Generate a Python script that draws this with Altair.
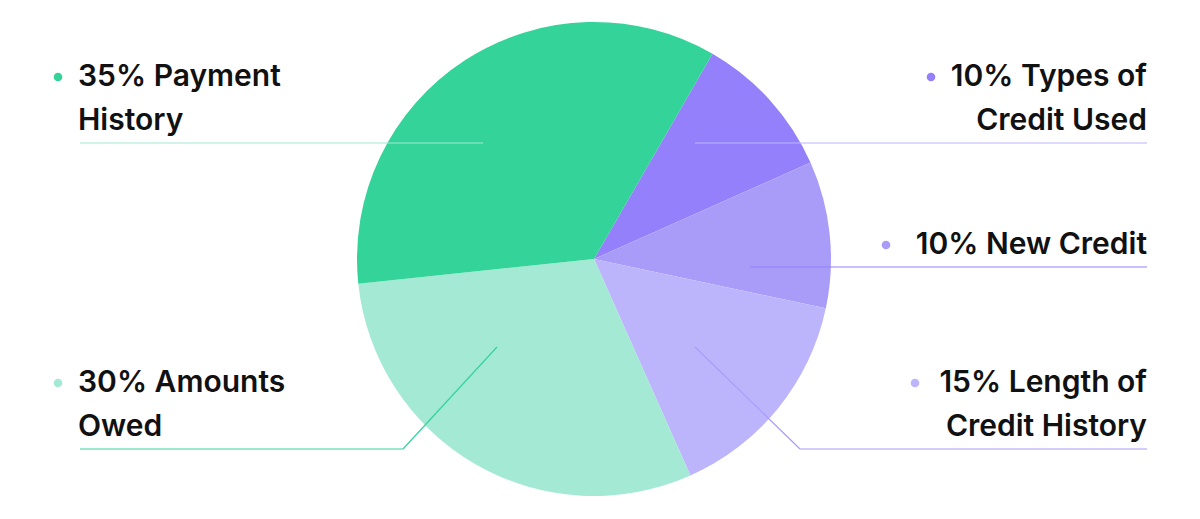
import math
import altair as alt
import pandas as pd

# ---- data ----
categories = ["Types of Credit Used", "New Credit", "Length of Credit History", "Amounts Owed", "Payment History"]
shares = [10, 10, 15, 30, 35]
slice_colors = ["#9380FA", "#A99CF8", "#BDB5FC", "#A3E9D4", "#34D399"]

label_line1 = ["10% Types of", "10% New Credit", "15% Length of", "30% Amounts", "35% Payment"]
label_line2 = ["Credit Used", "", "Credit History", "Owed", "History"]

# ---- layout (page pixel coordinates) ----
label_x = [1147, 1147, 1147, 78, 78]
label_align = ["right", "right", "right", "left", "left"]
label_y1 = [77, 245, 383, 383, 77]
line_gap = 44
dot_x = [931, 886, 915, 58, 58]
line_colors = ["#BDB5FC", "#9380FA", "#A99CF8", "#34D399", "#A3E9D4"]
# leader polylines: list of points per category
leader_x = [[695, 1147], [750, 1147], [695, 800, 1147], [497, 403, 80], [483, 80]]
leader_y = [[143, 143], [267, 267], [347, 449, 449], [347, 449, 449], [143, 143]]

W, H = 1184, 503
cx, cy, R = 594, 259, 237
start = math.radians(30)

pie_df = pd.DataFrame({"cat": categories, "value": shares, "idx": list(range(len(categories)))})

text_rows = []
for i in range(len(categories)):
    text_rows.append({"x": label_x[i], "y": label_y1[i], "t": label_line1[i], "align": label_align[i]})
    if label_line2[i]:
        text_rows.append({"x": label_x[i], "y": label_y1[i] + line_gap, "t": label_line2[i], "align": label_align[i]})
text_df = pd.DataFrame(text_rows)

dot_df = pd.DataFrame({"x": dot_x, "y": label_y1, "cat": categories})

seg_rows = []
for i in range(len(categories)):
    xs, ys = leader_x[i], leader_y[i]
    for j in range(len(xs) - 1):
        seg_rows.append({"x": xs[j], "y": ys[j], "x2": xs[j + 1], "y2": ys[j + 1], "col": line_colors[i]})
seg_df = pd.DataFrame(seg_rows)

xs = alt.Scale(domain=[8, 8 + W], nice=False, zero=False)
ys = alt.Scale(domain=[8, 8 + H], reverse=True, nice=False, zero=False)
color_scale = alt.Scale(domain=categories, range=slice_colors)

pie = alt.Chart(pie_df).mark_arc(radius=R).encode(
    theta=alt.Theta("value:Q", stack=True, scale=alt.Scale(range=[start, start + 2 * math.pi])),
    order=alt.Order("idx:Q"),
    color=alt.Color("cat:N", scale=color_scale, legend=None),
    x=alt.value(cx - 8),
    y=alt.value(cy - 8),
)

segs = alt.Chart(seg_df).mark_rule(strokeWidth=1.2).encode(
    x=alt.X("x:Q", scale=xs, axis=None),
    y=alt.Y("y:Q", scale=ys, axis=None),
    x2="x2:Q",
    y2="y2:Q",
    color=alt.Color("col:N", scale=None, legend=None),
)

dots = alt.Chart(dot_df).mark_circle(size=75, opacity=1).encode(
    x=alt.X("x:Q", scale=xs, axis=None),
    y=alt.Y("y:Q", scale=ys, axis=None),
    color=alt.Color("cat:N", scale=color_scale, legend=None),
)

text_style = dict(baseline="middle", font="Inter", fontSize=30, fontWeight=600, color="#111111")
base_text = alt.Chart(text_df)
text_left = base_text.transform_filter(alt.datum.align == "left").mark_text(
    align="left", **text_style
).encode(x=alt.X("x:Q", scale=xs, axis=None), y=alt.Y("y:Q", scale=ys, axis=None), text="t:N")
text_right = base_text.transform_filter(alt.datum.align == "right").mark_text(
    align="right", **text_style
).encode(x=alt.X("x:Q", scale=xs, axis=None), y=alt.Y("y:Q", scale=ys, axis=None), text="t:N")

chart = alt.layer(pie, segs, dots, text_left, text_right).resolve_scale(color="independent").properties(
    width=W, height=H, padding=0, autosize=alt.AutoSizeParams(type="none"),
    view=alt.ViewBackground(strokeWidth=0, stroke="transparent"),
).configure_view(strokeWidth=0, stroke="transparent").configure(background="white")

chart.save("out.html", embed_options={"renderer": "svg", "actions": False})
